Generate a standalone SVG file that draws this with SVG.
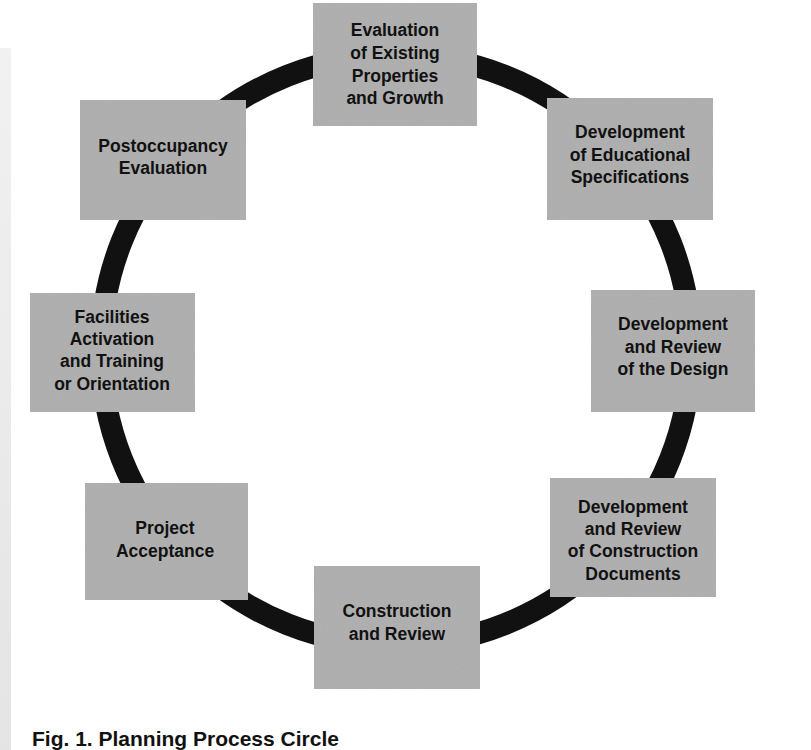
<svg xmlns="http://www.w3.org/2000/svg" width="811" height="750" viewBox="0 0 811 750">
<defs>
<linearGradient id="strip" x1="0" y1="0" x2="0" y2="1">
<stop offset="0" stop-color="#f1f1f1"/>
<stop offset="1" stop-color="#e4e4e4"/>
</linearGradient>
<filter id="grain" x="0" y="0" width="100%" height="100%">
<feTurbulence type="fractalNoise" baseFrequency="0.9" numOctaves="2" seed="3" result="n"/>
<feColorMatrix in="n" type="matrix" values="0 0 0 0 0.5  0 0 0 0 0.5  0 0 0 0 0.5  0 0 0 0.35 0" result="g"/>
<feComposite in="g" in2="SourceGraphic" operator="in" result="gc"/>
<feMerge><feMergeNode in="SourceGraphic"/><feMergeNode in="gc"/></feMerge>
</filter>
</defs>
<style>
.box{fill:#acacac;filter:url(#grain);}
.lbl{font-family:"Liberation Sans",Arial,sans-serif;font-weight:bold;font-size:17.5px;fill:#111;text-anchor:middle;}
.cap{font-family:"Liberation Sans",Arial,sans-serif;font-weight:bold;font-size:21px;fill:#111;}
</style>
<rect x="0" y="0" width="811" height="750" fill="#ffffff"/>
<rect x="0" y="48" width="11" height="702" fill="url(#strip)"/>
<g id="connectors">
<circle cx="396" cy="350" r="295" fill="none" stroke="#111" stroke-width="22"/>
</g>
<g id="n1">
<rect class="box" x="313" y="3" width="164" height="123"/>
<text class="lbl" x="395" y="36">Evaluation</text>
<text class="lbl" x="395" y="58.5">of Existing</text>
<text class="lbl" x="395" y="81.5">Properties</text>
<text class="lbl" x="395" y="104">and Growth</text>
</g>
<g id="n2">
<rect class="box" x="547" y="98" width="166" height="122"/>
<text class="lbl" x="630" y="138">Development</text>
<text class="lbl" x="630" y="161">of Educational</text>
<text class="lbl" x="630" y="183">Specifications</text>
</g>
<g id="n3">
<rect class="box" x="591" y="290" width="164" height="122"/>
<text class="lbl" x="673" y="330">Development</text>
<text class="lbl" x="673" y="353">and Review</text>
<text class="lbl" x="673" y="375">of the Design</text>
</g>
<g id="n4">
<rect class="box" x="550" y="478" width="166" height="119"/>
<text class="lbl" x="633" y="513">Development</text>
<text class="lbl" x="633" y="535">and Review</text>
<text class="lbl" x="633" y="557">of Construction</text>
<text class="lbl" x="633" y="580">Documents</text>
</g>
<g id="n5">
<rect class="box" x="314" y="566" width="166" height="123"/>
<text class="lbl" x="397" y="617">Construction</text>
<text class="lbl" x="397" y="640">and Review</text>
</g>
<g id="n6">
<rect class="box" x="85" y="483" width="163" height="117"/>
<text class="lbl" x="165" y="534">Project</text>
<text class="lbl" x="165" y="557">Acceptance</text>
</g>
<g id="n7">
<rect class="box" x="30" y="293" width="165" height="119"/>
<text class="lbl" x="112" y="323">Facilities</text>
<text class="lbl" x="112" y="345">Activation</text>
<text class="lbl" x="112" y="367">and Training</text>
<text class="lbl" x="112" y="390">or Orientation</text>
</g>
<g id="n8">
<rect class="box" x="80" y="100" width="166" height="120"/>
<text class="lbl" x="163" y="152">Postoccupancy</text>
<text class="lbl" x="163" y="174">Evaluation</text>
</g>
<text class="cap" x="32" y="746">Fig. 1. Planning Process Circle</text>
</svg>
